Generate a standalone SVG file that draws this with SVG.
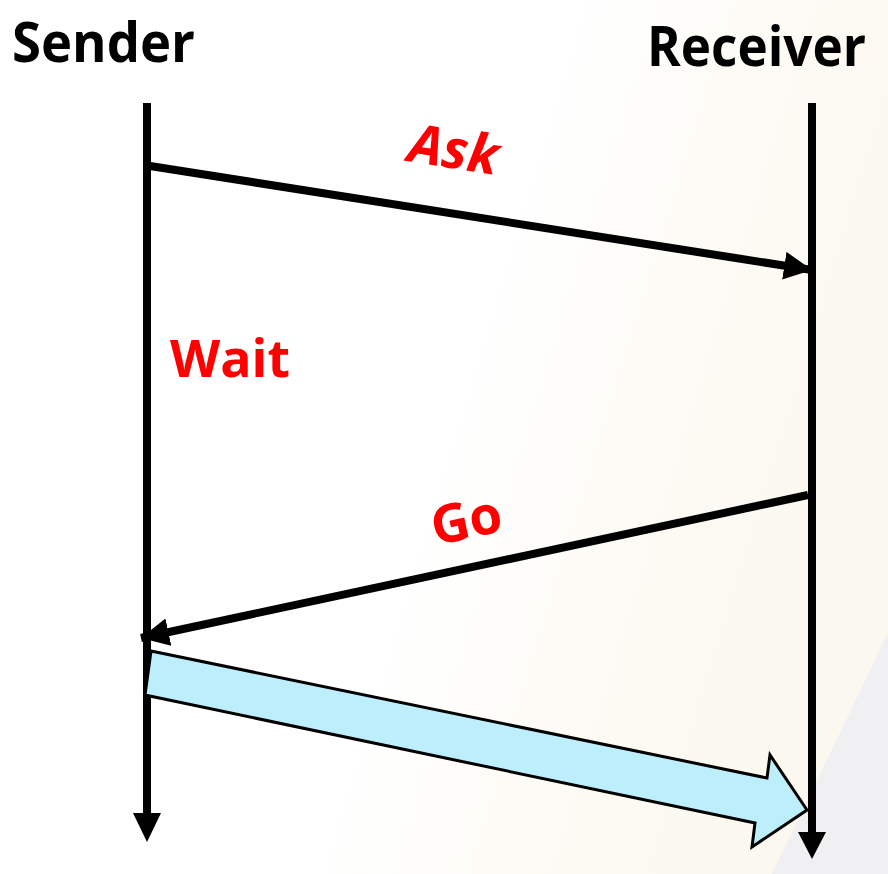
<svg xmlns="http://www.w3.org/2000/svg" width="888" height="874" viewBox="0 0 888 874">
<defs>
<linearGradient id="bg" x1="0" y1="0" x2="1" y2="0.3">
<stop offset="0.6" stop-color="#ffffff"/>
<stop offset="0.8" stop-color="#fdfbf5"/>
<stop offset="1" stop-color="#faf8ef"/>
</linearGradient>
<marker id="ah" viewBox="0 0 10 10" refX="10" refY="5" markerWidth="28" markerHeight="28" markerUnits="userSpaceOnUse" orient="auto">
<path d="M0,0 L10,5 L0,10 z" fill="#000"/>
</marker>
</defs>
<style>
.title{font-family:"Open Sans","Liberation Sans",sans-serif;font-weight:700;font-size:55px;fill:#000}
.lbl{font-family:"Open Sans","Liberation Sans",sans-serif;font-weight:700;fill:#ff0000}
.life{stroke:#000;stroke-width:8;fill:none}
.msg{stroke:#000;stroke-width:8;fill:none}
</style>
<rect width="888" height="874" fill="url(#bg)"/>
<path d="M888,633 L888,874 L772,874 Z" fill="#f0f0f3"/>
<g id="sender">
<text class="title" x="12" y="62" textLength="183" lengthAdjust="spacingAndGlyphs">Sender</text>
<line class="life" x1="147" y1="103" x2="147" y2="828"/>
<path d="M133,813 L161,813 L147,842 Z" fill="#000"/>
</g>
<g id="receiver">
<text class="title" x="647" y="66" textLength="219" lengthAdjust="spacingAndGlyphs">Receiver</text>
<line class="life" x1="812" y1="103" x2="812" y2="845"/>
<path d="M798,832 L826,832 L812,859 Z" fill="#000"/>
</g>
<g id="wait">
<text class="lbl" x="170" y="377" font-size="52" textLength="120" lengthAdjust="spacingAndGlyphs">Wait</text>
</g>
<g id="connectors">
<line class="msg" x1="150" y1="166" x2="812" y2="270" marker-end="url(#ah)"/>
<line class="msg" x1="808" y1="495" x2="141" y2="638" marker-end="url(#ah)"/>
<polygon points="151,651 767,778 770,755 807,810 752,847 755,823 145,695" fill="#bdeefc" stroke="#000" stroke-width="3" stroke-linejoin="miter"/>
</g>
<g id="ask">
<text class="lbl" font-size="54" font-style="italic" transform="translate(451,168) rotate(9)" text-anchor="middle">Ask</text>
</g>
<g id="go">
<text class="lbl" font-size="53" transform="translate(470,538) rotate(-12)" text-anchor="middle">Go</text>
</g>
</svg>
